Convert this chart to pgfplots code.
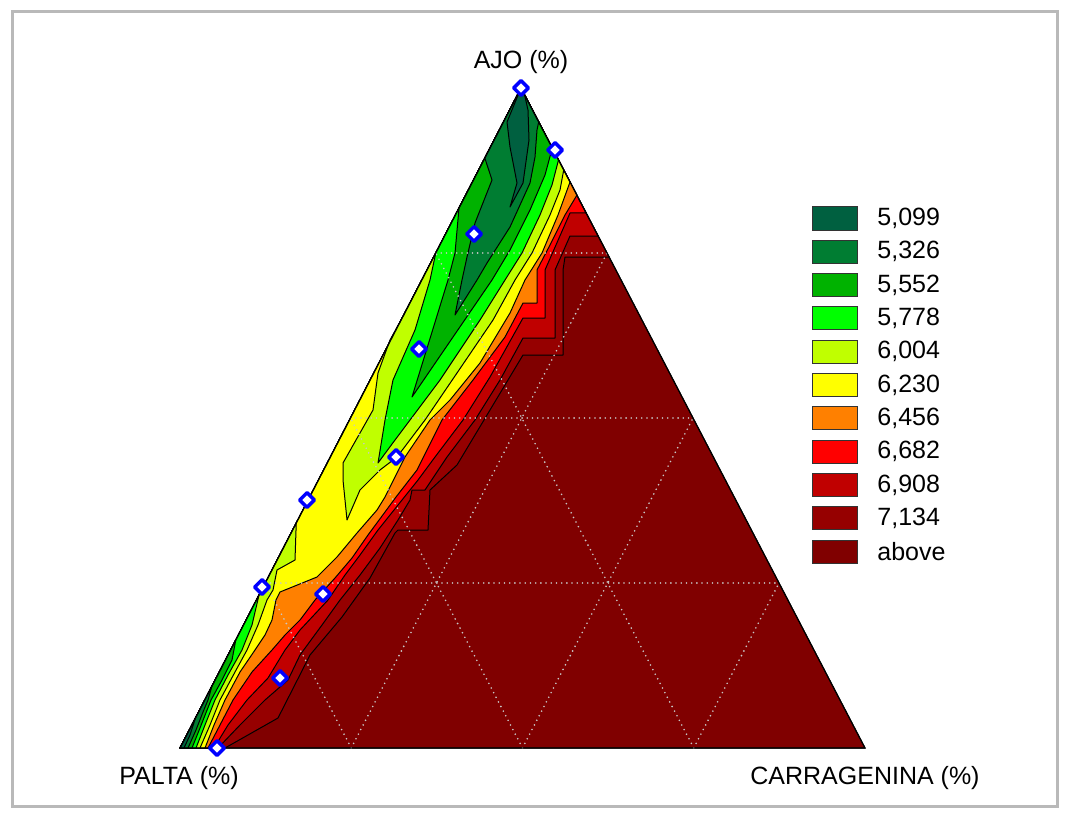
\documentclass[border=0pt]{standalone}
\usepackage{fontspec}
\setmainfont{Liberation Sans}
\usepackage{pgfplots}
\pgfplotsset{compat=1.18}

% contour band colours
\definecolor{cz0}{RGB}{0,96,64}
\definecolor{cz1}{RGB}{0,125,50}
\definecolor{cz2}{RGB}{0,178,0}
\definecolor{cz3}{RGB}{0,255,0}
\definecolor{cz4}{RGB}{192,255,0}
\definecolor{cz5}{RGB}{255,255,0}
\definecolor{cz6}{RGB}{255,128,0}
\definecolor{cz7}{RGB}{255,0,0}
\definecolor{cz8}{RGB}{192,0,0}
\definecolor{cz9}{RGB}{150,0,0}
\definecolor{cza}{RGB}{128,0,0}
\definecolor{framegray}{RGB}{185,185,185}
\definecolor{gridgray}{RGB}{200,200,200}

\tikzset{
  band/.style={draw=black, line width=0.5pt, line join=round},
  grid line/.style={draw=gridgray, line width=0.9pt, line cap=round, dash pattern=on 0pt off 2.6pt},
  lbl/.style={font=\fontsize{12.5}{15}\selectfont},
  legbox/.style={draw=black!80, line width=0.5pt},
}

\begin{document}
\begin{tikzpicture}
\begin{axis}[
  x=0.5pt, y=0.5pt, y dir=reverse,
  xmin=0, xmax=1069, ymin=0, ymax=818,
  hide axis, clip=false,
]
% page background and frame
\addplot[fill=white, draw=none] coordinates {(0,0) (1069,0) (1069,818) (0,818)} --cycle;
\addplot[draw=framegray, line width=1.5pt] coordinates {(12,12) (1057,12) (1057,806) (12,806)} --cycle;

% ---- filled contour regions, highest level first ----
% above 7,134
\addplot[band, fill=cza] coordinates {(180,748) (865,748) (521,88)} --cycle;
% <= 7,134
\addplot[band, fill=cz9] coordinates {(180,748) (225,748) (278,718) (310,655) (342,617) (370,578) (395,533) (398,530) (428,530) (430,490) (457,465) (478,430) (523,355) (563,355) (563,270) (565,257) (609,257) (521,88)} --cycle;
% <= 6,908
\addplot[band, fill=cz8] coordinates {(180,748) (218,748) (240,725) (265,700) (288,680) (300,655) (322,625) (340,600) (360,575) (380,548) (398,520) (410,500) (412,490) (425,490) (447,457) (475,420) (500,380) (523,338) (555,338) (555,270) (570,236) (598,236) (521,88)} --cycle;
% <= 6,682
\addplot[band, fill=cz7] coordinates {(180,748) (214,748) (228,725) (247,700) (268,678) (285,650) (300,630) (328,600) (345,575) (360,555) (378,530) (398,505) (418,480) (435,457) (463,420) (490,377) (523,318) (545,318) (545,270) (570,213) (586,213) (521,88)} --cycle;
% <= 6,456
\addplot[band, fill=cz6] coordinates {(180,748) (208,748) (220,725) (233,700) (252,672) (272,650) (285,635) (300,620) (315,600) (335,578) (352,558) (368,535) (385,512) (396,497) (417,470) (442,420) (473,380) (505,337) (523,303) (537,303) (537,270) (550,245) (565,215) (577,195) (521,88)} --cycle;
% <= 6,230
\addplot[band, fill=cz5] coordinates {(180,748) (205,748) (214,725) (225,700) (240,672) (255,650) (265,635) (272,620) (276,600) (280,592) (317,577) (337,557) (357,533) (377,510) (385,497) (405,457) (430,420) (450,400) (480,363) (510,313) (525,280) (542,253) (558,215) (570,182) (521,88)} --cycle;
% <= 6,004
\addplot[band, fill=cz4] coordinates {(521,88) (403.7,315) (390,340) (378,373) (373,410) (343,463) (343,480) (347,520) (360,490) (380,470) (397,457) (425,420) (457,373) (493,320) (515,280) (532,253) (550,215) (560,190) (563.7,170)} --cycle;
\addplot[band, fill=cz4] coordinates {(296.25,523) (295,560) (277,570) (273,590) (267,600) (258,625) (247,650) (235,672) (220,700) (210,725) (200,748) (180,748)} --cycle;
% <= 5,778
\addplot[band, fill=cz3] coordinates {(521,88) (435.75,253) (430,280) (415,330) (393,380) (385,420) (378,463) (395,440) (410,420) (440,380) (480,320) (505,280) (522,253) (540,215) (552,185) (558.5,160)} --cycle;
\addplot[band, fill=cz3] coordinates {(259,595) (252,625) (242,650) (228,675) (215,700) (205,725) (196,748) (180,748)} --cycle;
% <= 5,552
\addplot[band, fill=cz2] coordinates {(521,88) (459,208) (455,253) (448,280) (412,397) (492,280) (510,250) (530,210) (545,175) (552.3,148)} --cycle;
\addplot[band, fill=cz2] coordinates {(235.8,640) (232,660) (222,680) (211,700) (200,728) (192,748) (180,748)} --cycle;
% <= 5,326
\addplot[band, fill=cz1] coordinates {(521,88) (484.8,158) (492,180) (475,223) (467,257) (462,280) (455,315) (477,280) (487,263) (510,227) (530,183) (535,157) (537,130) (538.7,122)} --cycle;
\addplot[band, fill=cz1] coordinates {(212,686) (208,700) (203,712) (196,730) (188,748) (180,748)} --cycle;
% <= 5,099
\addplot[band, fill=cz0] coordinates {(521,88) (507,122) (510,147) (517,183) (510,207) (523,183) (529,140) (528,110) (524.6,95)} --cycle;
\addplot[band, fill=cz0] coordinates {(195.5,718) (190,735) (184,748) (180,748)} --cycle;

% ---- ternary grid at 25 %, 50 %, 75 % ----
\addplot[grid line] coordinates {(436,253) (607,253)};
\addplot[grid line] coordinates {(350.5,418) (693,418)};
\addplot[grid line] coordinates {(265.25,583) (779,583)};
\addplot[grid line] coordinates {(351.25,748) (607,253)};
\addplot[grid line] coordinates {(522.5,748) (693,418)};
\addplot[grid line] coordinates {(693.75,748) (779,583)};
\addplot[grid line] coordinates {(351.25,748) (265.25,583)};
\addplot[grid line] coordinates {(522.5,748) (350.5,418)};
\addplot[grid line] coordinates {(693.75,748) (435.75,253)};

% triangle outline
\addplot[draw=black, line width=0.6pt, line join=miter] coordinates {(180,748) (865,748) (521,88)} --cycle;

% design points
\addplot[only marks, mark=square*, mark size=2.6pt,
  mark options={rotate=45, draw=blue, fill=white, line width=1.7pt, line join=round}] coordinates {
  (521,88) (555,150) (474,234) (419,349) (396,457)
  (307,500) (262,587) (323,594) (280,678) (217,748)};

% vertex labels
\node[lbl] at (axis cs:521,62) {AJO (\%)};
\node[lbl] at (axis cs:179,778) {PALTA (\%)};
\node[lbl] at (axis cs:865,778) {CARRAGENINA (\%)};

% ---- legend ----
\addplot[legbox, fill=cz0] coordinates {(812,207.0) (857,207.0) (857,230.0) (812,230.0)} --cycle;
\addplot[legbox, fill=cz1] coordinates {(812,240.3) (857,240.3) (857,263.3) (812,263.3)} --cycle;
\addplot[legbox, fill=cz2] coordinates {(812,273.6) (857,273.6) (857,296.6) (812,296.6)} --cycle;
\addplot[legbox, fill=cz3] coordinates {(812,306.9) (857,306.9) (857,329.9) (812,329.9)} --cycle;
\addplot[legbox, fill=cz4] coordinates {(812,340.2) (857,340.2) (857,363.2) (812,363.2)} --cycle;
\addplot[legbox, fill=cz5] coordinates {(812,373.5) (857,373.5) (857,396.5) (812,396.5)} --cycle;
\addplot[legbox, fill=cz6] coordinates {(812,406.8) (857,406.8) (857,429.8) (812,429.8)} --cycle;
\addplot[legbox, fill=cz7] coordinates {(812,440.1) (857,440.1) (857,463.1) (812,463.1)} --cycle;
\addplot[legbox, fill=cz8] coordinates {(812,473.4) (857,473.4) (857,496.4) (812,496.4)} --cycle;
\addplot[legbox, fill=cz9] coordinates {(812,506.7) (857,506.7) (857,529.7) (812,529.7)} --cycle;
\addplot[legbox, fill=cza] coordinates {(812,540.0) (857,540.0) (857,563.0) (812,563.0)} --cycle;
\node[lbl, anchor=west, inner sep=0pt] at (axis cs:877,218.5) {5,099};
\node[lbl, anchor=west, inner sep=0pt] at (axis cs:877,251.8) {5,326};
\node[lbl, anchor=west, inner sep=0pt] at (axis cs:877,285.1) {5,552};
\node[lbl, anchor=west, inner sep=0pt] at (axis cs:877,318.4) {5,778};
\node[lbl, anchor=west, inner sep=0pt] at (axis cs:877,351.7) {6,004};
\node[lbl, anchor=west, inner sep=0pt] at (axis cs:877,385.0) {6,230};
\node[lbl, anchor=west, inner sep=0pt] at (axis cs:877,418.3) {6,456};
\node[lbl, anchor=west, inner sep=0pt] at (axis cs:877,451.6) {6,682};
\node[lbl, anchor=west, inner sep=0pt] at (axis cs:877,484.9) {6,908};
\node[lbl, anchor=west, inner sep=0pt] at (axis cs:877,518.2) {7,134};
\node[lbl, anchor=west, inner sep=0pt] at (axis cs:877,551.5) {above};
\end{axis}
\end{tikzpicture}
\end{document}
